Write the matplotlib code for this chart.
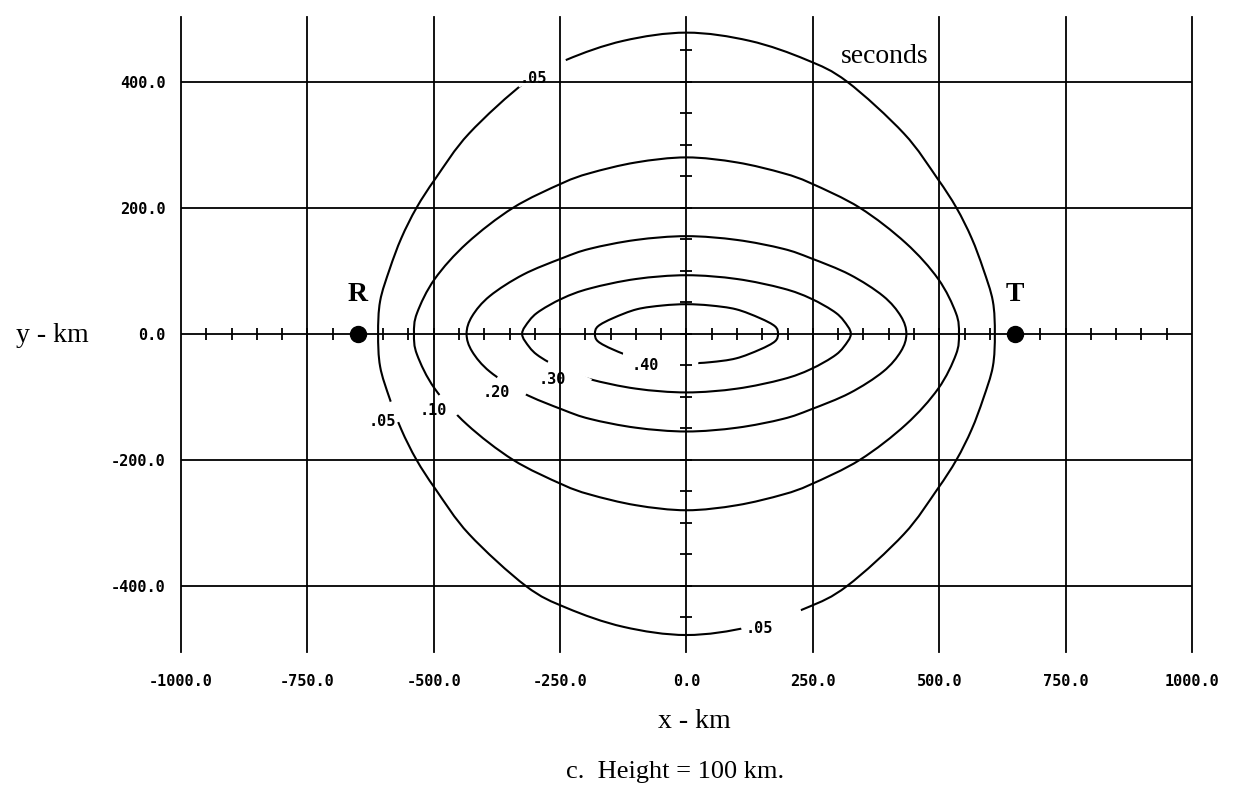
import numpy as np
import matplotlib.pyplot as plt
from matplotlib.path import Path
from matplotlib.patches import PathPatch

plt.rcParams['axes.unicode_minus'] = False

# contour levels (seconds) and their labels
levels = ['.05', '.10', '.20', '.30', '.40']

# upper-left quarter of every contour, km
q05_x = [-610, -606, -587, -564, -534, -496, -430, -318, -237, -125, 0]
q05_y = [0, 52, 103, 152, 200, 247, 318, 400, 435, 465, 478]
q10_x = [-539, -533, -498, -434, -343, -246, -191, -100, 0]
q10_y = [0, 33, 87, 144, 200, 239, 255, 272, 280]
q20_x = [-435, -424, -389, -323, -246, -191, -100, 0]
q20_y = [0, 28, 60, 94, 120, 135, 149, 155]
q30_x = [-325, -319, -296, -246, -191, -100, 0]
q30_y = [0, 12, 33, 56, 72, 87, 93]
q40_x = [-181, -175, -145, -98, -47, 0]
q40_y = [0, 12, 25, 39, 45, 47]
quarters = [(q05_x, q05_y), (q10_x, q10_y), (q20_x, q20_y), (q30_x, q30_y), (q40_x, q40_y)]

# where each contour is broken for its label: pairs of end points (km)
gaps = [
    [((-335, 398), (-237, 431)), ((-586, -108), (-570, -140)), ((110, -472), (228, -443))],
    [((-487, -96), (-454, -129))],
    [((-375, -70), (-319, -98))],
    [((-276, -48), (-191, -79))],
    [((-126, -35), (23, -49))],
]

# label positions (km)
label_pos = [
    [(-302, 406), (-602, -139), (145, -467)],
    [(-501, -121)],
    [(-377, -93)],
    [(-266, -72)],
    [(-82, -50)],
]

# receiver / transmitter
stations = ['R', 'T']
station_x = [-650, 650]

x_ticks = [-1000, -750, -500, -250, 0, 250, 500, 750, 1000]
x_ticklabels = ['-1000.0', '-750.0', '-500.0', '-250.0', '0.0', '250.0', '500.0', '750.0', '1000.0']
y_ticks = [-400, -200, 0, 200, 400]
y_ticklabels = ['-400.0', '-200.0', '0.0', '200.0', '400.0']

plot_font = 'DejaVu Sans Mono'
serif = 'Liberation Serif'


def contour_path(qx, qy):
    # mirror the quarter into a closed loop, then let a bezier path run through it
    qx = np.asarray(qx, float)
    qy = np.asarray(qy, float)
    x = np.concatenate([qx, -qx[::-1][1:], -qx[1:], qx[::-1][1:-1]])
    y = np.concatenate([qy, qy[::-1][1:], -qy[1:], -qy[::-1][1:-1]])
    p = np.column_stack([x, y])
    n = len(p)
    verts = [p[0]]
    codes = [Path.MOVETO]
    for i in range(n):
        p0, p1, p2, p3 = p[i - 1], p[i], p[(i + 1) % n], p[(i + 2) % n]
        verts += [p1 + (p2 - p0) / 6, p2 - (p3 - p1) / 6, p2]
        codes += [Path.CURVE4] * 3
    return Path(verts, codes)


fig = plt.figure(figsize=(12.36, 7.89), dpi=100)
ax = fig.add_axes([0.1464, 0.1736, 0.818, 0.805])

for (qx, qy), g, lab, pos in zip(quarters, gaps, levels, label_pos):
    ax.add_patch(PathPatch(contour_path(qx, qy), fill=False, edgecolor='k', lw=1.5, zorder=2))
    for (x1, y1), (x2, y2) in g:
        ax.plot([x1, x2], [y1, y2], color='white', lw=7, solid_capstyle='butt', zorder=3)
    for px, py in pos:
        ax.text(px, py, lab, fontfamily=plot_font, fontweight='bold', fontsize=11,
                ha='center', va='center', zorder=6)

# grid drawn by hand so it sits above the label gaps
for xv in x_ticks:
    ax.axvline(xv, color='k', lw=1.3, zorder=4, clip_on=False)
for yv in y_ticks:
    ax.axhline(yv, color='k', lw=1.3, zorder=4)

# small ticks along the two centre axes
tx = np.arange(-950, 951, 50)
ty = np.arange(-450, 451, 50)
ax.plot(tx, np.zeros(len(tx)), ls='none', marker='|', ms=8, mew=1.3, color='k', zorder=4)
ax.plot(np.zeros(len(ty)), ty, ls='none', marker='_', ms=8, mew=1.3, color='k', zorder=4)

ax.plot(station_x, [0, 0], ls='none', marker='o', ms=11.5, color='k', zorder=7)
for s, sx in zip(stations, station_x):
    ax.text(sx, 62, s, fontfamily=serif, fontweight='bold', fontsize=20, ha='center', va='center')

ax.text(393, 440, 'seconds', fontfamily=serif, fontsize=20, ha='center', va='center')

ax.set_xlim(-1000, 1000)
ax.set_ylim(-505, 503)
ax.set_xticks(x_ticks)
ax.set_xticklabels(x_ticklabels, fontfamily=plot_font, fontweight='bold', fontsize=11)
ax.set_yticks(y_ticks)
ax.set_yticklabels(y_ticklabels, fontfamily=plot_font, fontweight='bold', fontsize=11)
ax.tick_params(length=0)
ax.tick_params(axis='x', pad=16)
ax.tick_params(axis='y', pad=11)
for side in ['top', 'bottom', 'left', 'right']:
    ax.spines[side].set_visible(False)

fig.text(0.042, 0.5754, 'y - km', fontfamily=serif, fontsize=20, ha='center', va='center')
fig.text(0.562, 0.085, 'x - km', fontfamily=serif, fontsize=20, ha='center', va='center')
fig.text(0.546, 0.022, 'c.  Height = 100 km.', fontfamily=serif, fontsize=19, ha='center', va='center')

fig.savefig('out.png', dpi=100)
